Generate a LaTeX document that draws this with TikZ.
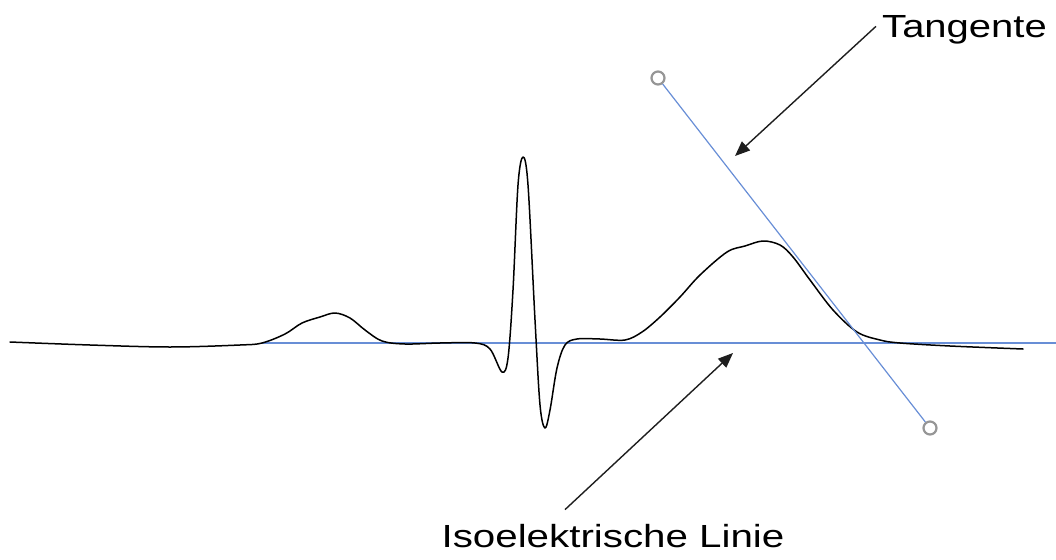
\documentclass[tikz,border=0pt]{standalone}
\usepackage{fontspec}
\setmainfont{Liberation Sans}
\usepackage{xcolor}
\usepackage{tikz}
\usetikzlibrary{arrows.meta,positioning,calc}
\definecolor{isoblue}{RGB}{104,142,214}
\definecolor{knobgray}{RGB}{150,150,150}
\definecolor{arrgray}{RGB}{30,30,30}
\tikzset{
  ecg/.style={black, line width=1.5pt, line cap=round, line join=round},
  isoline/.style={isoblue, line width=1.2pt},
  knob/.style={circle, draw=knobgray, line width=2.2pt, fill=white, minimum size=13pt, inner sep=0pt},
  lbl/.style={font=\fontsize{32}{38}\selectfont, inner sep=0pt},
  arr/.style={-{Triangle[length=15pt,width=12pt]}, arrgray, line width=1.4pt},
}
\begin{document}
\begin{tikzpicture}[x=1pt,y=-1pt]
  \useasboundingbox (0,0) rectangle (1056,559);
  % isoelektrische Linie
  \coordinate (isoL) at (262,343);
  \coordinate (isoR) at (1056,343);
  \draw[isoline] (isoL) -- (isoR);
  % EKG
  \draw[ecg] plot[smooth, tension=0.55] coordinates {
    (10,342) (90,345) (170,347) (240,345) (262,343) (285,334) (302,323)
    (320,317) (335,313) (350,318) (365,330) (382,341) (405,344) (440,343)
    (475,343) (490,349) (502,372) (508,358) (513,290) (518,185) (523,157)
    (528,185) (535,320) (540,405) (545,428) (550,410) (557,368) (565,345)
    (577,339) (600,339) (625,340) (642,332) (660,317) (680,297) (700,275)
    (727,252) (745,246) (763,241) (780,245) (793,257) (810,280) (833,310)
    (857,332) (880,340) (900,343) (950,346) (1023,349)};
  % Tangente
  \node[knob] (tanA) at (658,78) {};
  \node[knob] (tanB) at (930,428) {};
  \draw[isoline] (tanA) -- (tanB);
  % Beschriftungen
  \node[lbl, anchor=base west] (tangtext) at (882,38) {\scalebox{1.25}[1]{Tangente}};
  \node[lbl, anchor=base] (isotext) at (613,547) {\scalebox{1.26}[1]{Isoelektrische Linie}};
  \coordinate (tangtip) at (735,156);
  \coordinate (isotip) at (733,353);
  \draw[arr] ($(tangtext.west)+(-6,-4)$) -- (tangtip);
  \draw[arr] ($(isotext.north)+(-48,-14)$) -- (isotip);
\end{tikzpicture}
\end{document}
